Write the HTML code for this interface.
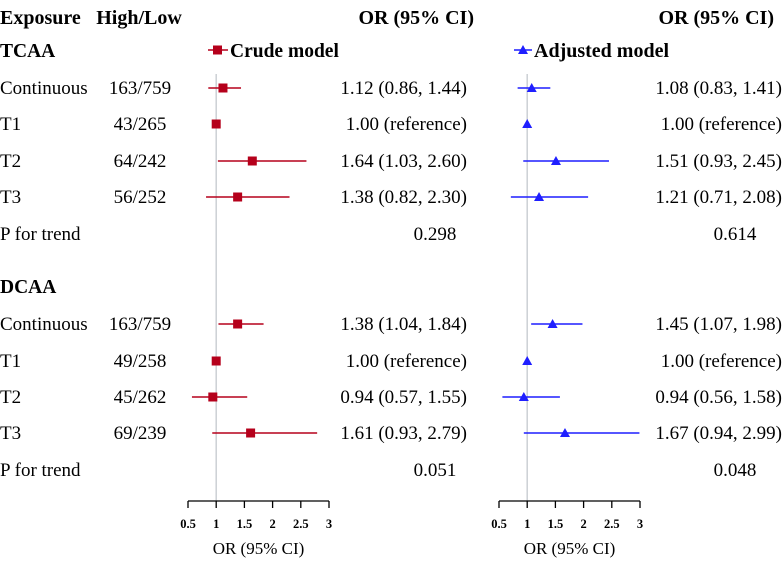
<!DOCTYPE html>
<html><head><meta charset="utf-8"><style>
body{margin:0;background:#fff;}
svg text{font-family:"Liberation Serif","Times New Roman",serif;fill:#000;}
</style></head><body>
<svg id="c" width="783" height="564" viewBox="0 0 783 564" xmlns="http://www.w3.org/2000/svg">
<g id="g" font-family="Liberation Serif, serif"></g>
</svg>
<script>
const labels=["Continuous","T1","T2","T3","P for trend","Continuous","T1","T2","T3","P for trend"];
const counts=["163/759","43/265","64/242","56/252","","163/759","49/258","45/262","69/239",""];
const crudeOR=[1.12,1.00,1.64,1.38,null,1.38,1.00,0.94,1.61,null];
const crudeLo=[0.86,null,1.03,0.82,null,1.04,null,0.57,0.93,null];
const crudeHi=[1.44,null,2.60,2.30,null,1.84,null,1.55,2.79,null];
const crudeTxt=["1.12 (0.86, 1.44)","1.00 (reference)","1.64 (1.03, 2.60)","1.38 (0.82, 2.30)","0.298","1.38 (1.04, 1.84)","1.00 (reference)","0.94 (0.57, 1.55)","1.61 (0.93, 2.79)","0.051"];
const adjOR=[1.08,1.00,1.51,1.21,null,1.45,1.00,0.94,1.67,null];
const adjLo=[0.83,null,0.93,0.71,null,1.07,null,0.56,0.94,null];
const adjHi=[1.41,null,2.45,2.08,null,1.98,null,1.58,2.99,null];
const adjTxt=["1.08 (0.83, 1.41)","1.00 (reference)","1.51 (0.93, 2.45)","1.21 (0.71, 2.08)","0.614","1.45 (1.07, 1.98)","1.00 (reference)","0.94 (0.56, 1.58)","1.67 (0.94, 2.99)","0.048"];
const ticks=[0.5,1,1.5,2,2.5,3];
const rowY=[88,124,161,197,234,324,361,397,433,470];
const g=document.getElementById('g');
const NS='http://www.w3.org/2000/svg';
function mk(t,a,p){const e=document.createElementNS(NS,t);for(const k in a)e.setAttribute(k,a[k]);(p||g).appendChild(e);return e;}
function txt(x,y,s,opt){const e=mk('text',Object.assign({x:x,y:y,'font-size':19,'font-family':'Liberation Serif, serif'},opt||{}));e.textContent=s;return e;}
const xL=v=>188+(v-0.5)*56.4, xR=v=>499+(v-0.5)*56.4;
const RED="#b5001b", BLUE="#1f1fff";
let e;
e=txt(0,24,"Exposure",{'font-weight':'bold','font-size':20});
e=txt(139,24,"High/Low",{'font-weight':'bold','font-size':20,'text-anchor':'middle'});
e=txt(474,24,"OR (95% CI)",{'font-weight':'bold','font-size':20,'text-anchor':'end'});
e=txt(774,24,"OR (95% CI)",{'font-weight':'bold','font-size':20,'text-anchor':'end'});
e=txt(0,57,"TCAA",{'font-weight':'bold','font-size':19.5});
e=txt(0,293,"DCAA",{'font-weight':'bold','font-size':19.5});
// legend
e=mk('line',{x1:208,y1:50,x2:228,y2:50,stroke:RED,'stroke-width':1.5});
e=mk('rect',{x:213,y:45.5,width:9,height:9,fill:RED});
e=txt(230,57,"Crude model",{'font-weight':'bold','font-size':19.5});
e=mk('line',{x1:514,y1:50,x2:532,y2:50,stroke:BLUE,'stroke-width':1.5});
e=mk('polygon',{points:"523,45 518,54 528,54",fill:BLUE});
e=txt(534,57,"Adjusted model",{'font-weight':'bold','font-size':20});
// reference lines
e=mk('line',{x1:xL(1),y1:74,x2:xL(1),y2:501,stroke:'#ccd0d4','stroke-width':1.5});
e=mk('line',{x1:xR(1),y1:74,x2:xR(1),y2:501,stroke:'#ccd0d4','stroke-width':1.5});
// axes
[[xL,'crude'],[xR,'adjusted']].forEach(([sc,nm])=>{
 e=mk('line',{x1:sc(0.5),y1:501,x2:sc(3),y2:501,stroke:'#000','stroke-width':1.3});
 ticks.forEach(t=>{
  e=mk('line',{x1:sc(t),y1:501,x2:sc(t),y2:508,stroke:'#000','stroke-width':1.3});
  e=txt(sc(t),528,String(t),{'font-size':12.5,'font-weight':'bold','text-anchor':'middle'});
 });
 e=txt((sc(0.5)+sc(3))/2,554,"OR (95% CI)",{'font-size':17,'text-anchor':'middle'});
});
labels.forEach((l,i)=>{
 const y=rowY[i];
 e=txt(0,y+6,l);
 if(counts[i]){e=txt(140,y+6,counts[i],{'text-anchor':'middle'});}
 const isP=crudeOR[i]===null;
 e=txt(isP?435:467,y+6,crudeTxt[i],{'text-anchor':isP?'middle':'end'});
 e=txt(isP?735:782,y+6,adjTxt[i],{'text-anchor':isP?'middle':'end'});
 if(!isP){
  if(crudeLo[i]!==null){e=mk('line',{x1:xL(crudeLo[i]),y1:y,x2:xL(crudeHi[i]),y2:y,stroke:RED,'stroke-width':1.5});}
  const cx=xL(crudeOR[i]);
  e=mk('rect',{x:cx-4.5,y:y-4.5,width:9,height:9,fill:RED});
  if(adjLo[i]!==null){e=mk('line',{x1:xR(adjLo[i]),y1:y,x2:xR(adjHi[i]),y2:y,stroke:BLUE,'stroke-width':1.5});}
  const ax=xR(adjOR[i]);
  e=mk('polygon',{points:`${ax},${y-5} ${ax-5},${y+4} ${ax+5},${y+4}`,fill:BLUE});
 }
});
</script>
</body></html>
